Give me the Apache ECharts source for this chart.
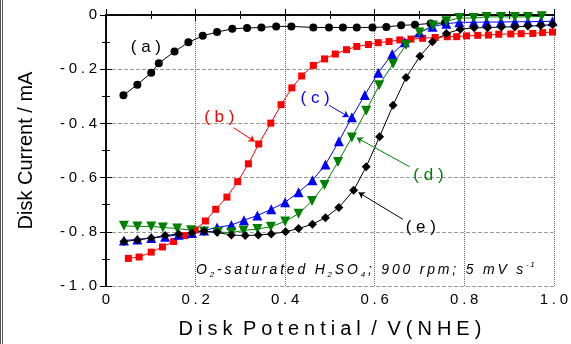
<!DOCTYPE html>
<html>
<head>
<meta charset="utf-8">
<script src="https://cdn.jsdelivr.net/npm/echarts@6/dist/echarts.min.js"></script>
<style>
html, body { margin: 0; padding: 0; background: #fff; }
#chart { width: 571px; height: 344px; }
</style>
</head>
<body>
<div id="chart"></div>
<script>
// values (potential in V, current in mA)
const aX = [0.039, 0.070, 0.101, 0.118, 0.153, 0.184, 0.216, 0.248, 0.282, 0.315, 0.347, 0.380, 0.414, 0.463, 0.498, 0.529, 0.560, 0.595, 0.626, 0.659, 0.690, 0.725, 0.757];
const aY = [-0.296, -0.257, -0.213, -0.178, -0.135, -0.101, -0.077, -0.063, -0.051, -0.048, -0.046, -0.042, -0.042, -0.046, -0.046, -0.046, -0.046, -0.046, -0.044, -0.038, -0.036, -0.031, -0.029];

const bX = [0.050, 0.074, 0.101, 0.126, 0.151, 0.176, 0.199, 0.222, 0.245, 0.270, 0.294, 0.318, 0.341, 0.368, 0.391, 0.415, 0.437, 0.463, 0.488, 0.512, 0.537, 0.560, 0.586, 0.608, 0.632, 0.656, 0.681, 0.707, 0.735, 0.762, 0.783, 0.805, 0.830, 0.854, 0.877, 0.904, 0.927, 0.953, 0.975, 0.997];
const bY = [-0.898, -0.893, -0.875, -0.856, -0.836, -0.814, -0.793, -0.760, -0.717, -0.672, -0.615, -0.549, -0.476, -0.399, -0.331, -0.269, -0.225, -0.186, -0.162, -0.144, -0.128, -0.116, -0.109, -0.102, -0.098, -0.092, -0.089, -0.086, -0.083, -0.080, -0.080, -0.077, -0.075, -0.074, -0.071, -0.070, -0.069, -0.068, -0.065, -0.063];

const cX = [0.040, 0.070, 0.101, 0.132, 0.162, 0.192, 0.219, 0.248, 0.280, 0.308, 0.338, 0.369, 0.400, 0.430, 0.461, 0.490, 0.520, 0.549, 0.578, 0.608, 0.639, 0.667, 0.700, 0.729, 0.760, 0.789, 0.821, 0.850, 0.882, 0.913, 0.942, 0.971, 0.997];
const cY = [-0.832, -0.828, -0.823, -0.818, -0.811, -0.804, -0.795, -0.784, -0.775, -0.757, -0.740, -0.717, -0.691, -0.654, -0.610, -0.552, -0.466, -0.377, -0.295, -0.213, -0.144, -0.101, -0.065, -0.043, -0.032, -0.027, -0.027, -0.026, -0.026, -0.025, -0.025, -0.024, -0.023];

const dX = [0.040, 0.070, 0.101, 0.127, 0.159, 0.190, 0.219, 0.250, 0.280, 0.307, 0.338, 0.368, 0.400, 0.430, 0.460, 0.488, 0.518, 0.549, 0.581, 0.610, 0.641, 0.670, 0.700, 0.730, 0.760, 0.789, 0.821, 0.850, 0.882, 0.913, 0.942, 0.973];
const dY = [-0.778, -0.780, -0.780, -0.784, -0.788, -0.794, -0.799, -0.801, -0.803, -0.795, -0.790, -0.781, -0.762, -0.733, -0.686, -0.627, -0.542, -0.452, -0.353, -0.259, -0.180, -0.111, -0.065, -0.039, -0.023, -0.011, -0.011, -0.007, -0.007, -0.007, -0.007, -0.005];

const eX = [0.040, 0.070, 0.101, 0.132, 0.162, 0.192, 0.219, 0.248, 0.280, 0.311, 0.340, 0.369, 0.401, 0.430, 0.461, 0.490, 0.520, 0.553, 0.581, 0.611, 0.641, 0.670, 0.701, 0.729, 0.760, 0.791, 0.822, 0.852, 0.883, 0.913, 0.942, 0.971, 0.997];
const eY = [-0.836, -0.830, -0.823, -0.814, -0.808, -0.804, -0.798, -0.802, -0.812, -0.814, -0.812, -0.808, -0.800, -0.788, -0.772, -0.748, -0.710, -0.647, -0.560, -0.449, -0.333, -0.231, -0.152, -0.099, -0.068, -0.053, -0.047, -0.047, -0.044, -0.044, -0.041, -0.039, -0.035];

// curve labels and their pointer lines, in data coordinates
const labelNames = ['a', 'b', 'c', 'd', 'e'];
const labelAt = [[0.089, -0.118], [0.253, -0.379], [0.467, -0.307], [0.720, -0.590], [0.703, -0.782]];
const pointerFrom = [null, [0.285, -0.416], [0.498, -0.333], [0.678, -0.560], [0.663, -0.754]];
const pointerTo = [null, [0.332, -0.467], [0.542, -0.376], [0.560, -0.453], [0.564, -0.655]];

const FONT = 'Liberation Sans, Arial, sans-serif';
const THIN = '\u2009';
const QUAD = '\u2005';
const spaced = (s, gap) => s.split('').join(gap || THIN);
const pair = (xs, ys) => xs.map((x, i) => [x, ys[i]]);

function tickText(v) {
    if (Math.abs(v) < 1e-9) return '0';
    return spaced(v.toFixed(1), QUAD);
}

function curve(i, xs, ys, color, symbol, size, rotate) {
    const s = {
        type: 'line',
        data: pair(xs, ys),
        symbol: symbol,
        symbolSize: size,
        symbolRotate: rotate || 0,
        showSymbol: true,
        lineStyle: { color: color, width: 1 },
        itemStyle: { color: color },
        markPoint: {
            silent: true,
            symbol: 'circle',
            symbolSize: 0,
            data: [{ coord: labelAt[i] }],
            label: {
                show: true, position: 'inside',
                formatter: '( ' + labelNames[i] + ' )',
                color: color, fontSize: 17, fontFamily: FONT
            }
        }
    };
    if (pointerFrom[i]) {
        s.markLine = {
            silent: true,
            symbol: ['none', 'arrow'],
            symbolSize: 6,
            label: { show: false },
            lineStyle: { color: color, width: 1, type: 'solid' },
            data: [[{ coord: pointerFrom[i] }, { coord: pointerTo[i] }]]
        };
    }
    return s;
}

const xTitle = ['Disk', 'Potential', '/', 'V(NHE)'].map(w => spaced(w, QUAD)).join(' ' + QUAD);

const cond = '{n|' + spaced('O') + THIN + '}{s|2}{n|' + THIN + spaced('-saturated H') + THIN + '}{s|2}{n|' + THIN +
    spaced('SO') + THIN + '}{s|4}{n|' + THIN + spaced('; 900 rpm; 5 mV s') + THIN + '}{p|' + spaced('-1') + '}';

const chart = echarts.init(document.getElementById('chart'));

const frameAxis = {
    min: 0, max: 1, interval: 0.2,
    axisLine: { show: true, lineStyle: { color: '#000', width: 1.5 } },
    axisTick: { show: true, inside: true, length: 6, lineStyle: { color: '#000', width: 1 } },
    minorTick: { show: true, splitNumber: 2, length: 4, lineStyle: { color: '#000', width: 1 } }
};

chart.setOption({
    animation: false,
    backgroundColor: '#fff',
    grid: { left: 106, right: 11, top: 15, bottom: 53 },
    xAxis: [
        Object.assign({}, frameAxis, {
            type: 'value', position: 'bottom',
            name: xTitle,
            nameLocation: 'middle', nameGap: 33,
            nameTextStyle: { fontSize: 20, color: '#000', fontFamily: FONT },
            axisLabel: { formatter: tickText, fontSize: 15, color: '#000', margin: 6, fontFamily: FONT },
            splitLine: { show: true, lineStyle: { color: '#666', width: 1, type: 'dotted' } }
        }),
        Object.assign({}, frameAxis, {
            type: 'value', position: 'top',
            axisLabel: { show: false }, splitLine: { show: false }
        })
    ],
    yAxis: [
        Object.assign({}, frameAxis, {
            type: 'value', position: 'left', min: -1, max: 0,
            name: 'Disk Current / mA',
            nameLocation: 'middle', nameGap: 70,
            nameTextStyle: { fontSize: 20, color: '#000', fontFamily: FONT },
            axisLabel: { formatter: tickText, fontSize: 15, color: '#000', margin: 9, fontFamily: FONT },
            splitLine: { show: true, lineStyle: { color: '#9a9a9a', width: 1, type: 'dashed' } }
        }),
        Object.assign({}, frameAxis, {
            type: 'value', position: 'right', min: -1, max: 0,
            axisLabel: { show: false }, splitLine: { show: false }
        })
    ],
    series: [
        curve(0, aX, aY, '#000000', 'circle', 8),
        curve(1, bX, bY, '#ff0000', 'rect', 7),
        curve(2, cX, cY, '#0000ff', 'triangle', 10),
        curve(3, dX, dY, '#008000', 'triangle', 10, 180),
        curve(4, eX, eY, '#000000', 'diamond', 9)
    ],
    graphic: [
        { type: 'line', shape: { x1: 0.5, y1: 0, x2: 0.5, y2: 344 }, style: { stroke: '#555', lineWidth: 1 } },
        { type: 'line', shape: { x1: 2.5, y1: 0, x2: 2.5, y2: 344 }, style: { stroke: '#555', lineWidth: 1 } },
        {
            type: 'text', x: 196, y: 270, z: 100,
            style: {
                text: cond,
                verticalAlign: 'middle',
                rich: {
                    n: { fontSize: 14, fontStyle: 'italic', fontFamily: FONT, fill: '#000', lineHeight: 18 },
                    s: { fontSize: 8, fontStyle: 'italic', fontFamily: FONT, fill: '#000', lineHeight: 8, verticalAlign: 'bottom' },
                    p: { fontSize: 8, fontStyle: 'italic', fontFamily: FONT, fill: '#000', lineHeight: 8, verticalAlign: 'top' }
                }
            }
        }
    ]
});
</script>
</body>
</html>
